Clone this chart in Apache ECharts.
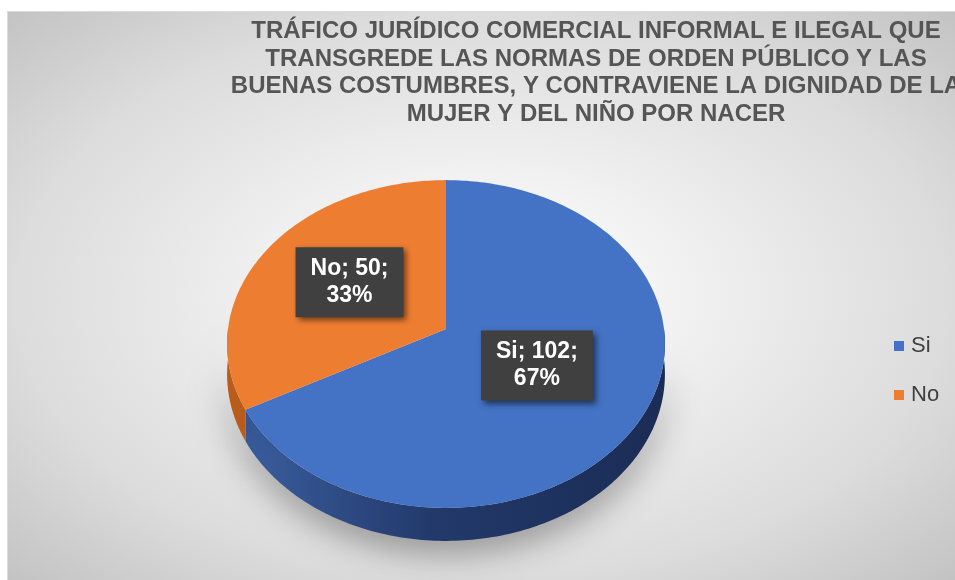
<!DOCTYPE html>
<html>
<head>
<meta charset="utf-8">
<script src="https://cdn.jsdelivr.net/npm/echarts@6/dist/echarts.min.js"></script>
<style>
    html, body { margin: 0; padding: 0; background: #ffffff; }
    #main {
        position: absolute;
        left: 7px;
        top: 11px;
        width: 948px;
        height: 569px;
        border-top: 1px solid #dcdcdc;
        border-left: 1px solid #dcdcdc;
        box-sizing: border-box;
        background: radial-gradient(ellipse at 50% 50%, #ffffff 0%, #f4f4f4 25%, #dcdcdc 70%, #c3c3c3 100%);
    }
</style>
</head>
<body>
<div id="main"></div>
<script>
// datos del gráfico
const categories = ['Si', 'No']
const values = [102, 50]
const colors = ['#4472C4', '#ED7D31']
const titleText = 'TRÁFICO JURÍDICO COMERCIAL INFORMAL E ILEGAL QUE\nTRANSGREDE LAS NORMAS DE ORDEN PÚBLICO Y LAS\nBUENAS COSTUMBRES, Y CONTRAVIENE LA DIGNIDAD DE LA\nMUJER Y DEL NIÑO POR NACER'

const total = values.reduce((a, b) => a + b, 0)

// geometría del pastel 3D (perspectiva)
const CX = 438, CY = 317
const R = 218
const TILT = 48.2 * Math.PI / 180
const DIST = 7.28
const DEPTH = 30

const sideFills = [
    { type: 'linear', x: 0, y: 0, x2: 1, y2: 0, colorStops: [
        { offset: 0, color: '#3a5d9e' },
        { offset: 0.45, color: '#22396a' },
        { offset: 1, color: '#1b2c55' }
    ] },
    '#b95c1b'
]

function project(ang, f, drop) {
    const u = Math.sin(ang) * f
    const w = Math.cos(ang) * f
    const s = DIST / (DIST + w * Math.cos(TILT))
    return [CX + R * u * s, CY - R * w * Math.sin(TILT) * s + (drop ? DEPTH * s : 0)]
}

function arc(a0, a1, drop) {
    const pts = []
    const n = Math.max(2, Math.ceil((a1 - a0) / (Math.PI / 180)))
    for (let k = 0; k <= n; k++) {
        pts.push(project(a0 + (a1 - a0) * k / n, 1, drop))
    }
    return pts
}

function renderSlice(idx) {
    return function (params, api) {
        let before = 0
        for (let k = 0; k < idx; k++) before += values[k]
        const v = api.value(0)
        const a0 = before / total * Math.PI * 2
        const a1 = (before + v) / total * Math.PI * 2
        const children = []

        // pared lateral (parte frontal)
        const s0 = Math.max(a0, Math.PI / 2)
        const s1 = Math.min(a1, Math.PI * 3 / 2)
        if (s1 > s0) {
            const top = arc(s0, s1, false)
            const bottom = arc(s0, s1, true).reverse()
            children.push({
                type: 'polygon',
                z2: 1,
                shape: { points: top.concat(bottom) },
                style: {
                    fill: sideFills[idx],
                    shadowColor: 'rgba(0,0,0,0.4)',
                    shadowBlur: 34,
                    shadowOffsetY: 10
                }
            })
        }

        // cara superior
        children.push({
            type: 'polygon',
            z2: 5,
            shape: { points: [project(0, 0, false)].concat(arc(a0, a1, false)) },
            style: { fill: colors[idx] }
        })

        // etiqueta
        const mid = (a0 + a1) / 2
        const lp = project(mid, 0.5, false)
        const pct = Math.round(v / total * 100)
        children.push({
            type: 'text',
            z2: 10,
            x: lp[0] - 5,
            y: lp[1] - 6,
            style: {
                text: categories[idx] + '; ' + v + ';\n' + pct + '%',
                fill: '#ffffff',
                font: 'bold 23px "Liberation Sans", Arial, sans-serif',
                lineHeight: 27,
                align: 'center',
                verticalAlign: 'middle',
                backgroundColor: '#404040',
                padding: [8, 15],
                shadowColor: 'rgba(0,0,0,0.55)',
                shadowBlur: 6,
                shadowOffsetX: 3,
                shadowOffsetY: 3
            }
        })
        return { type: 'group', children: children }
    }
}

const myChart = echarts.init(document.getElementById('main'))
myChart.setOption({
    animation: false,
    backgroundColor: 'transparent',
    title: {
        text: titleText,
        left: 583,
        top: 1,
        textAlign: 'center',
        textStyle: {
            fontFamily: '"Liberation Sans", Arial, sans-serif',
            fontSize: 24,
            fontWeight: 'bold',
            color: '#555555',
            lineHeight: 27.5
        }
    },
    legend: {
        data: categories,
        orient: 'vertical',
        left: 881,
        top: 318,
        icon: 'rect',
        itemWidth: 10,
        itemHeight: 10,
        itemGap: 27,
        textStyle: {
            fontFamily: '"Liberation Sans", Arial, sans-serif',
            fontSize: 22,
            color: '#404040',
            padding: [0, 0, 0, 2]
        }
    },
    series: categories.map((name, i) => ({
        type: 'custom',
        name: name,
        coordinateSystem: 'none',
        itemStyle: { color: colors[i] },
        renderItem: renderSlice(i),
        data: [[values[i]]]
    }))
})
</script>
</body>
</html>
